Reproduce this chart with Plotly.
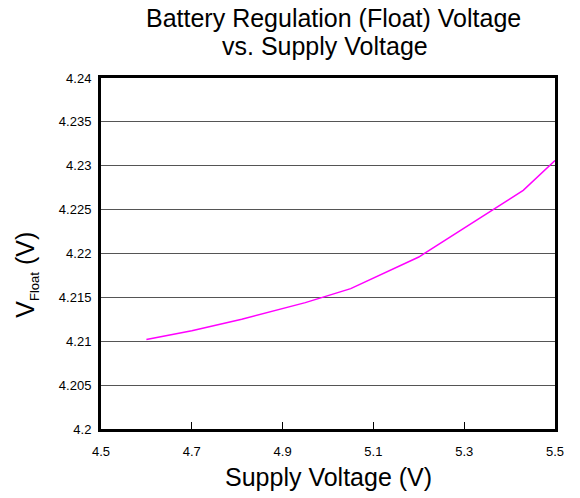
import plotly.graph_objects as go

# Supply voltage (V) and measured float voltage (V)
supply_v = [4.60, 4.70, 4.81, 4.95, 5.05, 5.20, 5.40, 5.43, 5.50]
float_v = [4.2102, 4.2112, 4.2125, 4.2144, 4.2160, 4.2196, 4.2262, 4.2272, 4.2306]

x_ticks = [4.5, 4.7, 4.9, 5.1, 5.3, 5.5]
y_ticks = [4.2, 4.205, 4.21, 4.215, 4.22, 4.225, 4.23, 4.235, 4.24]
y_labels = ["4.2", "4.205", "4.21", "4.215", "4.22", "4.225", "4.23", "4.235", "4.24"]

font_family = "Liberation Sans, Arial, Helvetica, sans-serif"

fig = go.Figure()
fig.add_trace(go.Scatter(
    x=supply_v, y=float_v, mode="lines",
    line=dict(color="#ff00ff", width=1.5),
    showlegend=False, hoverinfo="skip",
))

fig.update_layout(
    width=580, height=498,
    margin=dict(l=101, r=25, t=78, b=69),
    paper_bgcolor="white", plot_bgcolor="white",
    font=dict(family=font_family, color="black"),
)

# Two-line chart heading
fig.add_annotation(text="Battery Regulation (Float) Voltage", xref="paper", yref="paper",
                   x=0.512, y=1.170, xanchor="center", yanchor="middle",
                   showarrow=False, font=dict(size=25, color="black"))
fig.add_annotation(text="vs. Supply Voltage", xref="paper", yref="paper",
                   x=0.493, y=1.092, xanchor="center", yanchor="middle",
                   showarrow=False, font=dict(size=25, color="black"))

# Axis titles
fig.add_annotation(text="Supply Voltage (V)", xref="paper", yref="paper",
                   x=0.502, y=-0.137, xanchor="center", yanchor="middle",
                   showarrow=False, font=dict(size=25, color="black"))
fig.add_annotation(text="V<sub><span style='font-size:13px'>Float</span></sub> (V)",
                   xref="paper", yref="paper", textangle=-90,
                   x=-0.165, y=0.44, xanchor="center", yanchor="middle",
                   showarrow=False, font=dict(size=25, color="black"))

fig.update_xaxes(
    range=[4.5, 5.5], tickvals=x_ticks, ticktext=[f"{v:.1f}" for v in x_ticks],
    showgrid=False, zeroline=False,
    showline=True, linecolor="black", linewidth=3, mirror=True,
    ticks="inside", ticklen=7, tickwidth=1, tickcolor="black",
    tickfont=dict(size=13, color="black"), ticklabelstandoff=8,
)

fig.update_yaxes(
    range=[4.2, 4.24], tickvals=y_ticks, ticktext=y_labels,
    showgrid=True, gridcolor="#555555", gridwidth=1.2, zeroline=False,
    showline=True, linecolor="black", linewidth=3, mirror=True,
    ticks="", ticklen=0,
    tickfont=dict(size=13, color="black"), ticklabelstandoff=4,
)

fig.write_html("out.html")
